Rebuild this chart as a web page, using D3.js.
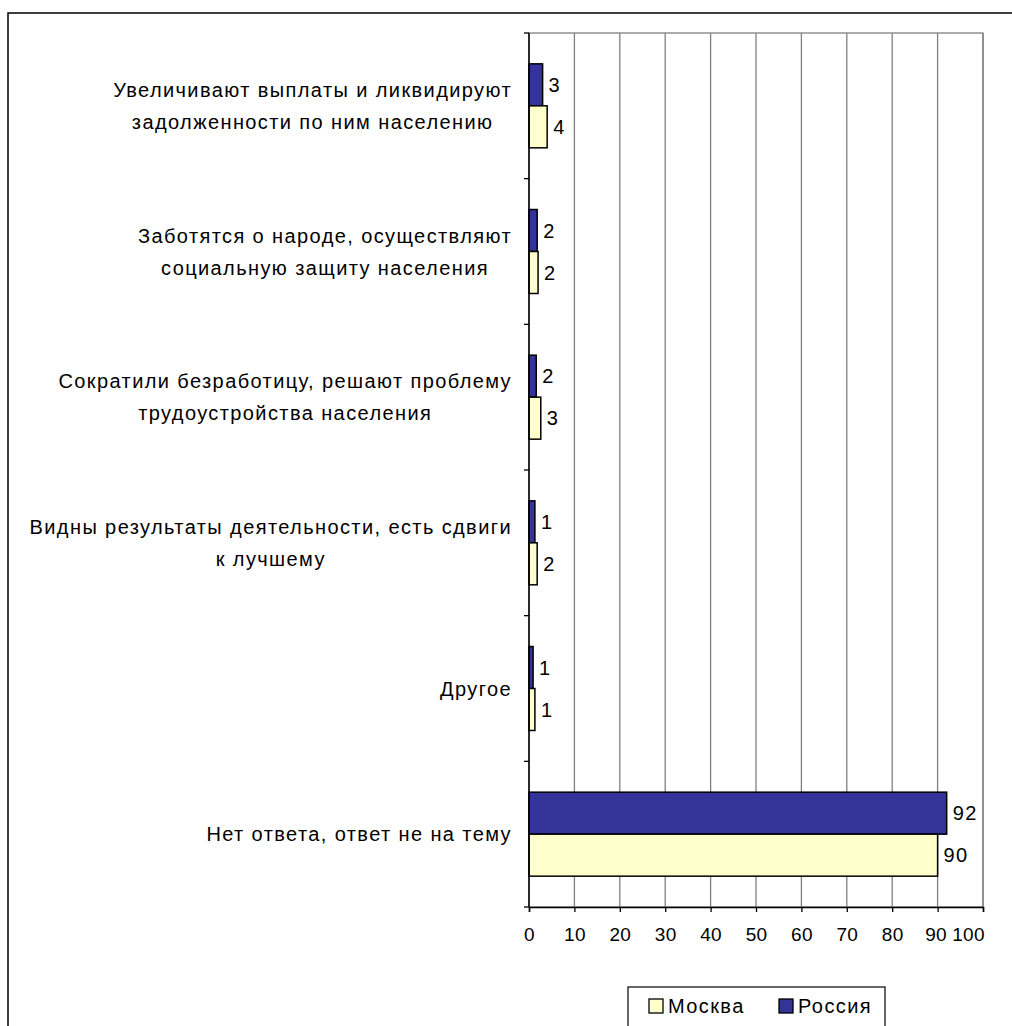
<!DOCTYPE html>
<html><head><meta charset="utf-8">
<script src="https://cdn.jsdelivr.net/npm/d3@7"></script>
<style>
body{margin:0;background:#fff;}
svg text{font-family:"Liberation Sans",Arial,sans-serif;font-size:20px;fill:#000;letter-spacing:1.4px;}
svg .xax text{letter-spacing:0.3px;font-size:19px;}
</style></head>
<body><svg id="c" width="1012" height="1026"></svg>
<script>
const categories = [
  ["Увеличивают выплаты и ликвидируют","задолженности по ним населению"],
  ["Заботятся о народе, осуществляют","социальную защиту населения"],
  ["Сократили безработицу, решают проблему","трудоустройства населения"],
  ["Видны результаты деятельности, есть сдвиги","к лучшему"],
  ["Другое"],
  ["Нет ответа, ответ не на тему"]
];
const seriesNames = ["Россия","Москва"];
const russia = [3.0, 1.8, 1.6, 1.3, 0.9, 92];
const moscow = [4.0, 2.0, 2.6, 1.8, 1.3, 90];
const xTicks = [0,10,20,30,40,50,60,70,80,90,100];
const colors = {"Россия":"#333399","Москва":"#FFFFCC"};
const legendOrder = ["Москва","Россия"];

const svg = d3.select("#c");
const L=529, R=983, T=33, B=907;

// outer border
svg.append("rect").attr("x",8).attr("y",13).attr("width",1100).attr("height",1100)
  .attr("fill","none").attr("stroke","#000").attr("stroke-width",1.5);

const x = d3.scaleLinear().domain([0,100]).range([L,R]);
const y = d3.scaleBand().domain(d3.range(categories.length)).range([T,B])
  .paddingInner(0.4235).paddingOuter(0.21175);
const ySub = d3.scaleBand().domain(seriesNames).range([0,y.bandwidth()]);

// plot area border
svg.append("rect").attr("x",L).attr("y",T).attr("width",R-L).attr("height",B-T)
  .attr("fill","none").attr("stroke","#808080").attr("stroke-width",1.3);
// gridlines
svg.append("g").selectAll("line").data(xTicks.slice(1)).join("line")
  .attr("x1",d=>x(d)).attr("x2",d=>x(d)).attr("y1",T).attr("y2",B)
  .attr("stroke","#808080").attr("stroke-width",1.3);

// bars
const data = categories.map((c,i)=>({i, vals:[{s:"Россия",v:russia[i]},{s:"Москва",v:moscow[i]}]}));
const g = svg.append("g").selectAll("g").data(data).join("g")
  .attr("transform",d=>`translate(0,${y(d.i)})`);
g.selectAll("rect").data(d=>d.vals).join("rect")
  .attr("x",x(0)).attr("y",d=>ySub(d.s)).attr("width",d=>x(d.v)-x(0)).attr("height",ySub.bandwidth())
  .attr("fill",d=>colors[d.s]).attr("stroke","#000").attr("stroke-width",1.5);
g.selectAll("text").data(d=>d.vals).join("text")
  .attr("x",d=>x(d.v)+6).attr("y",d=>ySub(d.s)+ySub.bandwidth()/2).attr("dy","0.36em")
  .text(d=>Math.round(d.v));

// x axis
const xa = svg.append("g").attr("class","xax").attr("transform",`translate(0,${B})`)
  .call(d3.axisBottom(x).tickValues(xTicks).tickSize(5).tickPadding(16));
xa.select(".domain").attr("stroke","#000").attr("stroke-width",1.5);
xa.selectAll(".tick line").attr("stroke","#000").attr("stroke-width",1.3);
xa.selectAll("text").attr("font-size",null).attr("font-family",null).attr("fill","#000").attr("dy","0.71em");
xa.selectAll(".tick").filter(d=>d===100).select("text").attr("x",-15);
xa.selectAll(".tick").filter(d=>d===90).select("text").attr("x",-2);

// y axis
const yTickPos = d3.range(categories.length+1).map(k=>T+k*(B-T)/categories.length);
svg.append("line").attr("x1",L).attr("x2",L).attr("y1",T).attr("y2",B)
  .attr("stroke","#000").attr("stroke-width",1.5);
svg.append("g").selectAll("line").data(yTickPos).join("line")
  .attr("x1",L-5).attr("x2",L).attr("y1",d=>d).attr("y2",d=>d)
  .attr("stroke","#000").attr("stroke-width",1.3);

// category labels
const labelRight = 512, lineH = 32;
categories.forEach((lines,i)=>{
  const cy = y(i)+y.bandwidth()/2;
  const grp = svg.append("g");
  const ts = lines.map((ln,k)=>grp.append("text").attr("text-anchor","middle")
     .attr("y", cy + (k-(lines.length-1)/2)*lineH).attr("dy","0.35em").text(ln));
  const w = d3.max(ts, t=>t.node().getComputedTextLength());
  ts.forEach(t=>t.attr("x", labelRight - w/2));
});

// legend
const lg = svg.append("g");
lg.append("rect").attr("x",628).attr("y",987).attr("width",257).attr("height",80)
  .attr("fill","#fff").attr("stroke","#000").attr("stroke-width",1.2);
const lx = [649,779];
legendOrder.forEach((s,k)=>{
  lg.append("rect").attr("x",lx[k]).attr("y",999).attr("width",14).attr("height",14)
    .attr("fill",colors[s]).attr("stroke","#000").attr("stroke-width",1.3);
  lg.append("text").attr("x",lx[k]+19).attr("y",1006).attr("dy","0.36em").text(s);
});
</script></body></html>
